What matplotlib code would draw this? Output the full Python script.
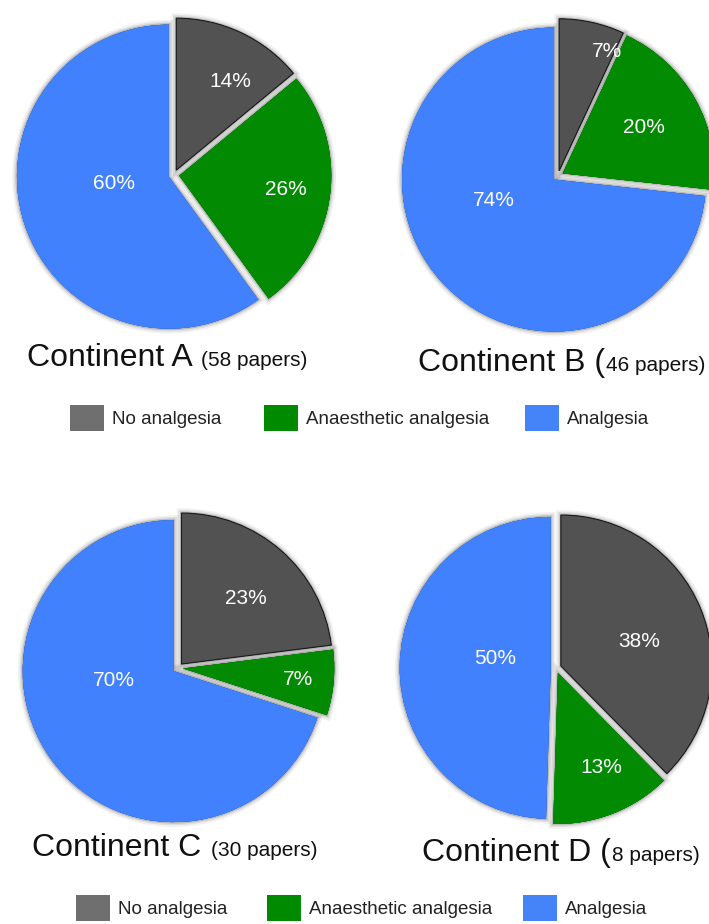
import matplotlib
matplotlib.use("Agg")
import matplotlib.pyplot as plt
import matplotlib.patheffects as pe
from matplotlib.patches import Patch
import numpy as np

plt.rcParams['font.family'] = ['Liberation Sans', 'DejaVu Sans']

# data
categories = ['No analgesia', 'Anaesthetic analgesia', 'Analgesia']
continents = ['Continent A', 'Continent B', 'Continent C', 'Continent D']
papers = [58, 46, 30, 8]
share_a = [14, 26, 60]
share_b = [7, 20, 74]
share_c = [23, 7, 70]
share_d = [38, 13, 50]
shares = [share_a, share_b, share_c, share_d]

# style
pie_colors = ['#525252', '#038a03', '#4181fd']
legend_colors = ['#6f6f6f', '#008a00', '#4584f8']
W, H = 709, 924
centers = [(174, 175), (558, 176), (178, 668), (556, 668)]   # px
radii = [152, 152, 151, 151]                                  # px
label_dist = [[0.72, 0.74, 0.40], [0.88, 0.65, 0.45],
              [0.64, 0.80, 0.43], [0.58, 0.72, 0.41]]
label_nudge = [[-6, 0, -10], [-9, 0, -21], [-3, 0, -25], [-5, 3, -8]]
title_pos = [(27, 366), (418, 371), (32, 856), (422, 861)]
legend_rows = [(418, [70, 264, 525]), (908, [76, 267, 523])]
L = 1.2

fig = plt.figure(figsize=(W / 100, H / 100), dpi=100)

shadow = [pe.Stroke(linewidth=7, foreground=(0, 0, 0, 0.05)),
          pe.Stroke(linewidth=4.5, foreground=(0, 0, 0, 0.08)),
          pe.Stroke(linewidth=2.2, foreground=(0, 0, 0, 0.16)),
          pe.Normal()]

for i, vals in enumerate(shares):
    cx, cy = centers[i]
    r = radii[i]
    size = 2 * L * r
    ax = fig.add_axes([(cx - size / 2) / W, 1 - (cy + size / 2) / H, size / W, size / H])
    wedges, _ = ax.pie(vals, colors=pie_colors, startangle=90, counterclock=False,
                       explode=[0.035] * 3, radius=1,
                       wedgeprops=dict(edgecolor='none', linewidth=0))
    for j, w in enumerate(wedges):
        w.set_path_effects(shadow)
        if j == 0:
            w.set_edgecolor('#1c1c1c')
            w.set_linewidth(0.8)
        mid = np.deg2rad((w.theta1 + w.theta2) / 2 + label_nudge[i][j])
        d = label_dist[i][j]
        ax.text(d * np.cos(mid), d * np.sin(mid), f'{vals[j]}%', color='white',
                fontsize=15, ha='center', va='center')
    ax.set_xlim(-L, L)
    ax.set_ylim(-L, L)
    ax.axis('off')

# titles: big continent name + smaller paper count
renderer = fig.canvas.get_renderer()
for i, name in enumerate(continents):
    x, y = title_pos[i]
    big = name + (' (' if i % 2 == 1 else ' ')
    small = (f'{papers[i]} papers)' if i % 2 == 1 else f'({papers[i]} papers)')
    t = fig.text(x / W, 1 - y / H, big, fontsize=23, color='#111111',
                 ha='left', va='baseline')
    bb = t.get_window_extent(renderer)
    fig.text(bb.x1 / W + 1 / W, 1 - y / H, small, fontsize=15, color='#111111',
             ha='left', va='baseline')

# legends
for ly, xs in legend_rows:
    for k in range(3):
        fig.legend(handles=[Patch(facecolor=legend_colors[k], edgecolor='none')],
                   labels=[categories[k]], loc='center left',
                   bbox_to_anchor=(xs[k] / W, 1 - ly / H), frameon=False,
                   fontsize=13.5, handlelength=1.8, handleheight=1.8,
                   handletextpad=0.45, borderpad=0, borderaxespad=0,
                   labelcolor='#222222')

fig.savefig('out.png', dpi=100, facecolor='white')
